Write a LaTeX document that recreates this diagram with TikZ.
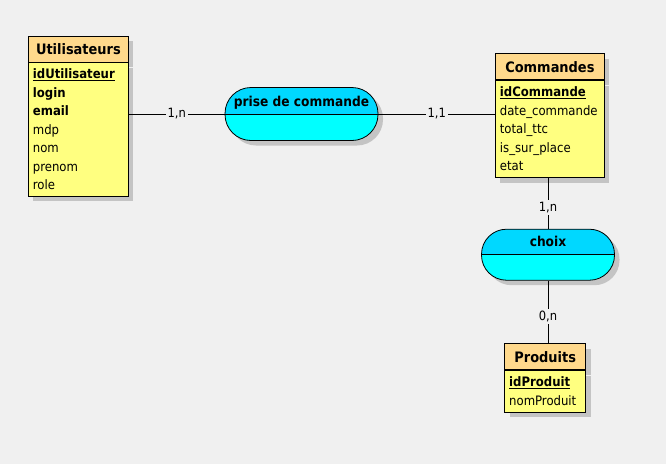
\documentclass[tikz,border=0pt]{standalone}
\usepackage{fontspec}
\setmainfont{DejaVu Sans Condensed}
\usetikzlibrary{shadows}

\definecolor{bgcol}{HTML}{F0F0F0}
\definecolor{headcol}{HTML}{FFD98C}
\definecolor{bodycol}{HTML}{FFFF80}
\definecolor{asstop}{HTML}{00D8FF}
\definecolor{assbot}{HTML}{00FFFF}
\definecolor{shadcol}{HTML}{C4C4C4}

\tikzset{
  shad/.style={drop shadow={shadow xshift=5pt,shadow yshift=-5pt,fill=shadcol,opacity=1}},
  enthead/.style={draw,fill=headcol,shad,anchor=north west,inner sep=0pt,
    minimum height=26pt,font=\fontsize{14.4}{15}\selectfont\bfseries},
  entbody/.style={draw,fill=bodycol,shad,anchor=north west,align=left,
    inner xsep=4.5pt,inner ysep=0pt,font=\fontsize{13}{18.5}\selectfont},
  assoc/.style={draw,fill=assbot,shad,rounded corners=#1,inner sep=0pt,
    text height=9pt,text depth=25pt,font=\fontsize{13.6}{15}\selectfont\bfseries,
    path picture={
      \fill[asstop,sharp corners] (path picture bounding box.north west) rectangle (path picture bounding box.east);
      \draw[sharp corners] (path picture bounding box.west) -- (path picture bounding box.east);
    }},
  card/.style={fill=bgcol,inner sep=2pt,font=\fontsize{12.8}{14}\selectfont}
}

\begin{document}
\begin{tikzpicture}[x=1pt,y=-1pt,line width=.8pt]
  \fill[bgcol] (0,0) rectangle (666,464);
  \useasboundingbox (0,0) rectangle (666,464);

  % entites
  \node[enthead, minimum width=100pt] (utilh) at (28,35.5) {Utilisateurs};
  \node[entbody, text width=91pt, minimum height=133.5pt] (utilb) at (utilh.south west)
    {\underline{\textbf{idUtilisateur}}\\ \textbf{login}\\ \textbf{email}\\ mdp\\ nom\\ prenom\\ role};

  \node[enthead, minimum width=109pt] (cmdh) at (495,53.3) {Commandes};
  \node[entbody, text width=100pt, minimum height=97pt] (cmdb) at (cmdh.south west)
    {\underline{\textbf{idCommande}}\\ date\_commande\\ total\_ttc\\ is\_sur\_place\\ etat};

  \node[enthead, minimum width=81pt] (prodh) at (504.3,343.3) {Produits};
  \node[entbody, text width=72pt, minimum height=41.7pt] (prodb) at (prodh.south west)
    {\underline{\textbf{idProduit}}\\ nomProduit};

  % associations
  \node[assoc=26pt, minimum width=153pt, minimum height=53pt] (prise) at (301.5,114) {prise de commande};
  \node[assoc=25pt, minimum width=133pt, minimum height=51pt] (choix) at (548,254.7) {choix};

  \draw (prise.west) -- node[card]{1,n} (utilb.east |- prise.west);
  \draw (prise.east) -- node[card]{1,1} (cmdb.west |- prise.east);
  \draw (choix.north) -- node[card,pos=.42]{1,n} (choix.north |- cmdb.south);
  \draw (choix.south) -- node[card,pos=.57]{0,n} (choix.south |- prodh.north);

\end{tikzpicture}
\end{document}
